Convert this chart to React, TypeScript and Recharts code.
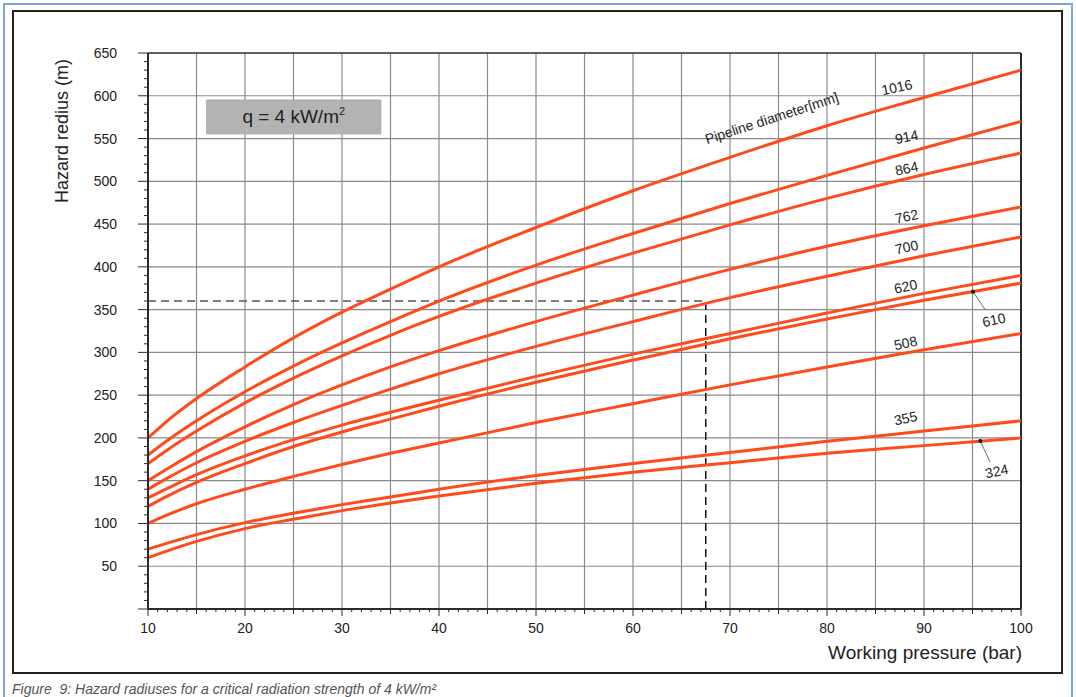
import React from 'react'
import {
  CartesianGrid,
  Label,
  Line,
  LineChart,
  ReferenceArea,
  ReferenceDot,
  ReferenceLine,
  XAxis,
  YAxis,
} from 'recharts'

// working pressure (bar)
const pressure = [10, 12, 15, 20, 25, 30, 35, 40, 50, 60, 70, 80, 90, 100]

// hazard radius (m) per pipeline diameter (mm)
const d1016 = [200, 220, 246, 283, 317, 347, 374, 400, 446, 489, 528, 565, 598, 630]
const d914 = [180, 197, 220, 254, 284, 311, 336, 360, 402, 439, 474, 507, 539, 570]
const d864 = [170, 186, 208, 241, 270, 296, 320, 342, 381, 416, 449, 480, 508, 533]
const d762 = [150, 164, 184, 213, 239, 262, 283, 302, 336, 367, 397, 424, 448, 470]
const d700 = [140, 153, 171, 196, 218, 238, 257, 275, 307, 336, 364, 389, 413, 435]
const d620 = [130, 141, 157, 179, 198, 215, 230, 244, 272, 298, 322, 346, 369, 390]
const d610 = [120, 132, 148, 170, 190, 207, 222, 237, 265, 291, 316, 339, 361, 381]
const d508 = [100, 110, 123, 140, 155, 169, 182, 194, 218, 240, 262, 283, 303, 322]
const d355 = [70, 77, 87, 101, 112, 122, 131, 140, 156, 170, 183, 196, 208, 220]
const d324 = [60, 68, 79, 94, 105, 115, 124, 132, 147, 160, 171, 182, 191, 200]

const seriesKeys = ['d1016', 'd914', 'd864', 'd762', 'd700', 'd620', 'd610', 'd508', 'd355', 'd324']
const seriesValues = [d1016, d914, d864, d762, d700, d620, d610, d508, d355, d324]

// curve labels: [text, x, y]
const curveLabels: [string, number, number][] = [
  ['1016', 87.2, 610],
  ['914', 88.2, 552],
  ['864', 88.2, 515],
  ['762', 88.2, 459],
  ['700', 88.2, 423],
  ['620', 88.1, 377],
  ['508', 88.1, 311],
  ['355', 88.1, 223],
]
// labels with leader lines: [text, dotX, dotY, endX, endY, labelX, labelY]
const leaderLabels: [string, number, number, number, number, number, number][] = [
  ['610', 95.05, 371, 96.3, 350, 97.2, 338],
  ['324', 95.8, 196.5, 96.8, 172, 97.5, 161],
]

const xTicks = Array.from({ length: 91 }, (_, i) => 10 + i)
const yTicks = Array.from({ length: 66 }, (_, i) => i * 10)
const xGrid = [15, 20, 25, 30, 35, 40, 45, 50, 55, 60, 65, 70, 75, 80, 85, 90, 95]
const yGrid = [50, 100, 150, 200, 250, 300, 350, 400, 450, 500, 550, 600]

// example reading: 700 mm at 67.5 bar -> 360 m
const readX = 67.5
const readY = 360

const data = pressure.map((p, i) => {
  const row: Record<string, number> = { p }
  seriesKeys.forEach((k, j) => {
    row[k] = seriesValues[j][i]
  })
  return row
})

const CURVE = '#ff4a1c'
const AXIS = '#2b2b2b'
const GRID = '#8a8a8a'

const XTick = (props: any) => {
  const { x, y, payload } = props
  const v = payload.value
  const major = v % 10 === 0
  const mid = v % 5 === 0
  const len = major ? 7 : mid ? 5 : 3
  return (
    <g>
      <line x1={x} x2={x} y1={y} y2={y + len} stroke={AXIS} strokeWidth={1} />
      {major ? (
        <text x={x} y={y + 24} textAnchor="middle" fontSize={14} fill="#222">
          {v}
        </text>
      ) : null}
    </g>
  )
}

const YTick = (props: any) => {
  const { x, y, payload } = props
  const v = payload.value
  const major = v % 50 === 0
  const len = major ? 10 : 4
  return (
    <g>
      <line x1={x - len} x2={x} y1={y} y2={y} stroke={AXIS} strokeWidth={1} />
      {major && v > 0 ? (
        <text x={x - 31} y={y + 5} textAnchor="end" fontSize={14} fill="#222">
          {v}
        </text>
      ) : null}
    </g>
  )
}

const rotatedText = (text: string, angle: number, size: number) => (p: any) => (
  <text
    x={p.cx}
    y={p.cy}
    textAnchor="middle"
    dominantBaseline="central"
    fontSize={size}
    fill="#222"
    transform={`rotate(${angle} ${p.cx} ${p.cy})`}
  >
    {text}
  </text>
)

export default function App() {
  return (
    <div
      style={{
        position: 'absolute',
        left: 0,
        top: 0,
        width: 1076,
        height: 697,
        overflow: 'hidden',
        background: '#fff',
        fontFamily: '"Liberation Sans", Arial, sans-serif',
      }}
    >
      <div
        style={{
          position: 'absolute',
          left: 3,
          top: 3,
          width: 1066,
          height: 720,
          border: '2px solid #7ea6d8',
        }}
      />
      <div
        style={{
          position: 'absolute',
          left: 12,
          top: 10,
          width: 1047,
          height: 660,
          border: '2px solid #222',
        }}
      />
      <div
        style={{
          position: 'absolute',
          left: 12,
          top: 681,
          fontSize: 14,
          fontStyle: 'italic',
          color: '#555',
          whiteSpace: 'nowrap',
        }}
      >
        Figure&nbsp; 9: Hazard radiuses for a critical radiation strength of 4 kW/m²
      </div>
      <div style={{ position: 'absolute', left: 0, top: 0 }}>
        <LineChart
          width={1076}
          height={697}
          data={data}
          margin={{ top: 53, right: 55, bottom: 58, left: 88 }}
        >
          <CartesianGrid
            stroke={GRID}
            strokeWidth={1.2}
            horizontalValues={yGrid}
            verticalValues={xGrid}
          />
          <XAxis
            dataKey="p"
            type="number"
            domain={[10, 100]}
            ticks={xTicks}
            interval={0}
            tickSize={0}
            tickMargin={0}
            tick={<XTick />}
            height={30}
            axisLine={{ stroke: AXIS, strokeWidth: 2 }}
          >
            <Label
              content={(p: any) => {
                const vb = p.viewBox
                return (
                  <text x={vb.x + vb.width + 1} y={vb.y + 50} textAnchor="end" fontSize={19} fill="#222">
                    Working pressure (bar)
                  </text>
                )
              }}
            />
          </XAxis>
          <YAxis
            type="number"
            domain={[0, 650]}
            ticks={yTicks}
            interval={0}
            tickSize={0}
            tickMargin={0}
            tick={<YTick />}
            width={60}
            axisLine={{ stroke: AXIS, strokeWidth: 2 }}
          >
            <Label
              content={(p: any) => {
                const vb = p.viewBox
                const cx = vb.x - 26
                const cy = 131
                return (
                  <text
                    x={cx}
                    y={cy}
                    textAnchor="middle"
                    dominantBaseline="central"
                    fontSize={18}
                    fill="#222"
                    transform={`rotate(-90 ${cx} ${cy})`}
                  >
                    Hazard redius (m)
                  </text>
                )
              }}
            />
          </YAxis>
          <ReferenceLine y={650} stroke={AXIS} strokeWidth={1.5} />
          <ReferenceLine x={100} stroke={AXIS} strokeWidth={2} />
          <ReferenceArea
            x1={16.05}
            x2={34}
            y1={555.5}
            y2={595}
            fill="#b3b3b3"
            fillOpacity={1}
            stroke="#a8a8a8"
            label={(p: any) => {
              const vb = p.viewBox
              const cx = vb.x + vb.width / 2
              const cy = vb.y + vb.height / 2 + 6
              return (
                <text x={cx} y={cy} textAnchor="middle" fontSize={19} fill="#222">
                  q = 4 kW/m
                  <tspan fontSize={11} dy={-8}>
                    2
                  </tspan>
                </text>
              )
            }}
          />
          <ReferenceLine
            segment={[
              { x: 10, y: readY },
              { x: readX, y: readY },
            ]}
            stroke="#555"
            strokeWidth={1.5}
            strokeDasharray="8 5"
          />
          <ReferenceLine
            segment={[
              { x: readX, y: 0 },
              { x: readX, y: readY },
            ]}
            stroke="#111"
            strokeWidth={1.5}
            strokeDasharray="8 5"
          />
          {seriesKeys.map((k) => (
            <Line
              key={k}
              type="monotone"
              dataKey={k}
              stroke={CURVE}
              strokeWidth={3}
              dot={false}
              activeDot={false}
              isAnimationActive={false}
            />
          ))}
          <ReferenceDot x={74.3} y={574} r={0} shape={rotatedText('Pipeline diameter[mm]', -18, 14)} />
          {curveLabels.map(([t, x, y]) => (
            <ReferenceDot key={t} x={x} y={y} r={0} shape={rotatedText(t, -12, 14)} />
          ))}
          {leaderLabels.map(([t, dx, dy, ex, ey]) => (
            <ReferenceLine
              key={'l' + t}
              segment={[
                { x: dx, y: dy },
                { x: ex, y: ey },
              ]}
              stroke="#444"
              strokeWidth={0.8}
            />
          ))}
          {leaderLabels.map(([t, dx, dy]) => (
            <ReferenceDot key={'d' + t} x={dx} y={dy} r={2} fill="#111" stroke="none" />
          ))}
          {leaderLabels.map(([t, , , , , lx, ly]) => (
            <ReferenceDot key={'t' + t} x={lx} y={ly} r={0} shape={rotatedText(t, -12, 14)} />
          ))}
        </LineChart>
      </div>
    </div>
  )
}
